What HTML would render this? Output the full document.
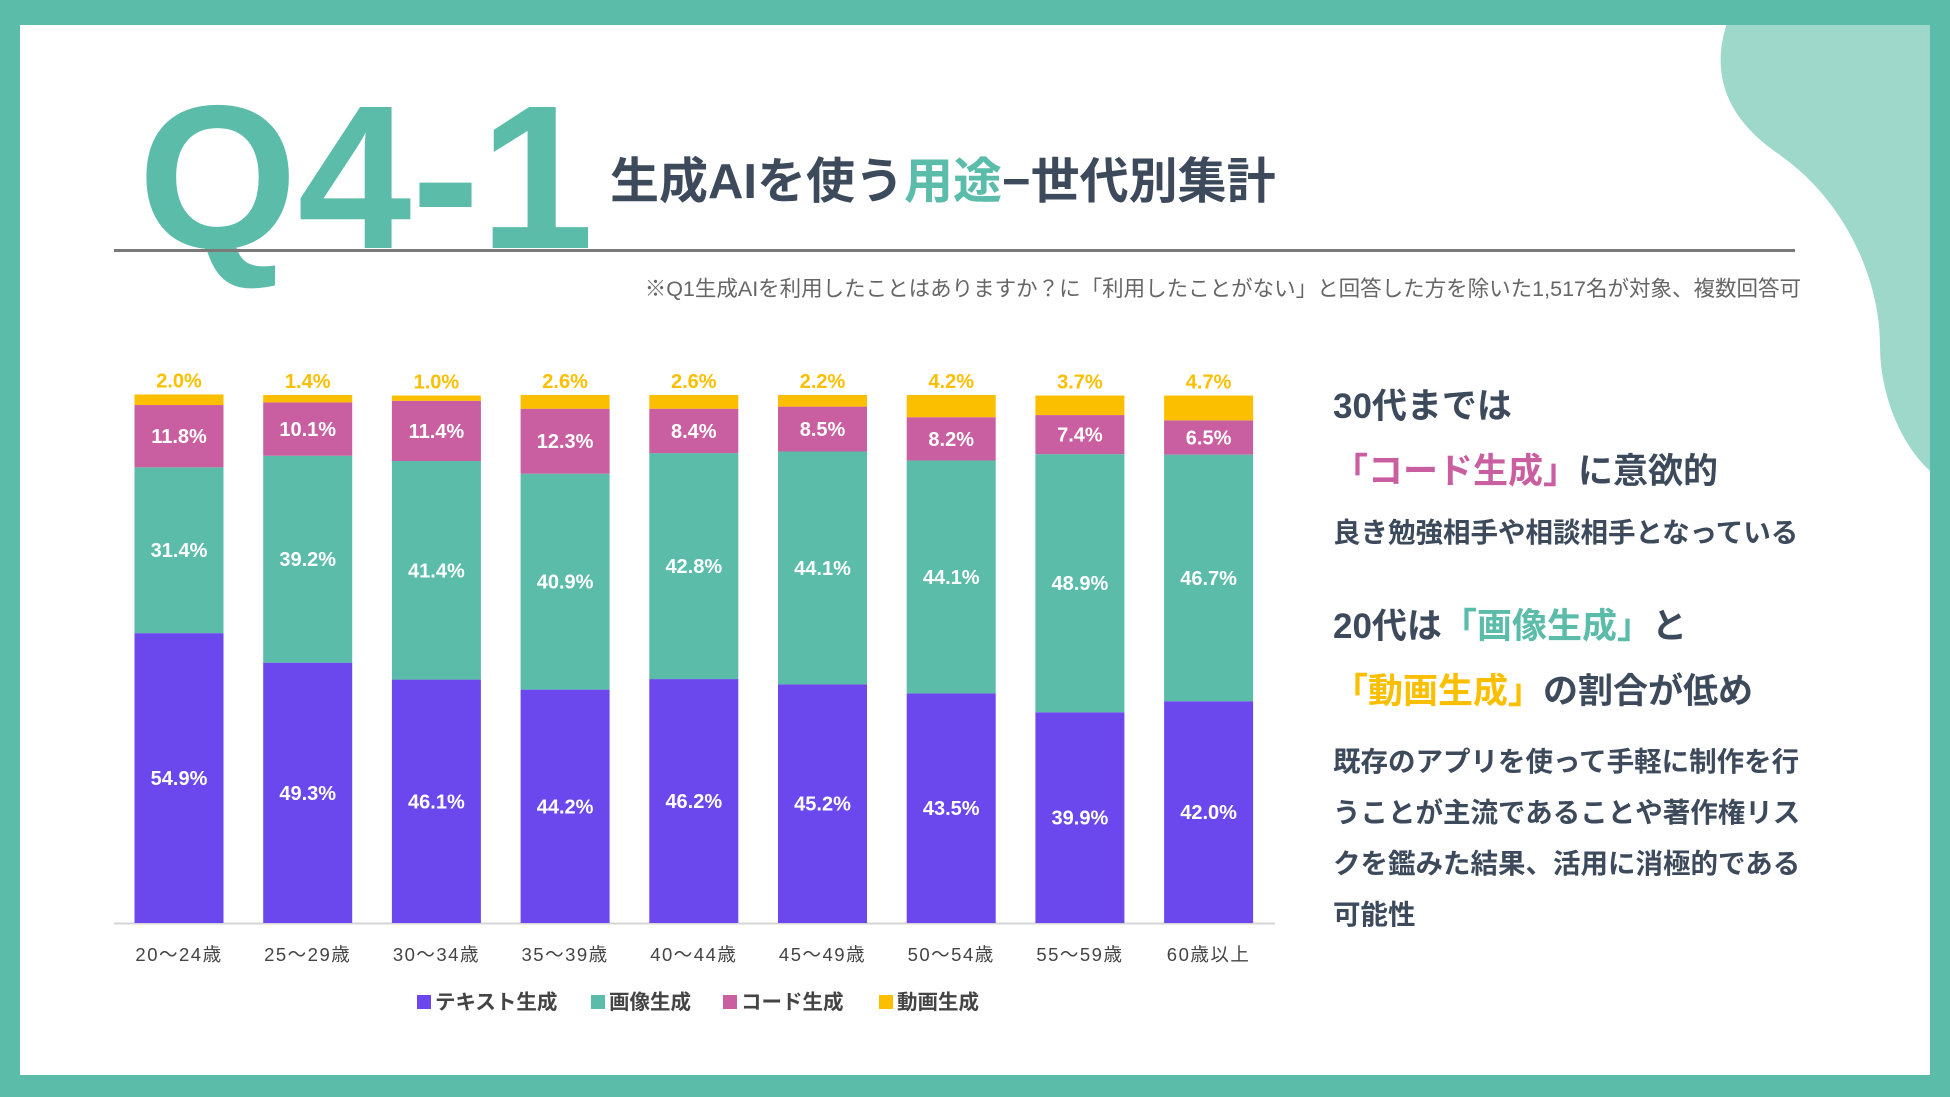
<!DOCTYPE html>
<html><head><meta charset="utf-8">
<style>
body{margin:0;width:1950px;height:1097px;overflow:hidden;background:#5bbcaa;font-family:"Liberation Sans","Noto Sans CJK JP",sans-serif;}
#frame{position:absolute;left:20px;top:25px;width:1910px;height:1050px;background:#fff;overflow:hidden}
.abs{position:absolute;white-space:nowrap}
</style></head><body>
<div id="frame">
<svg class="abs" style="left:0;top:0" width="1910" height="1050">
<path d="M1710 -10 C1690 40 1700 90 1760 130 C1830 180 1860 260 1860 320 C1860 380 1890 440 1930 460 L1930 -10 Z" fill="#9ed8cb"/>
</svg>
<div class="abs" style="left:118px;top:50px;font-size:205px;font-weight:bold;color:#5bbcaa;letter-spacing:0px;line-height:1">Q4-1</div>
<div class="abs" style="left:590px;top:133px;font-size:49px;font-weight:bold;color:#3d4a5c;line-height:1">生成AIを使う<span style="color:#5bbcaa">用途</span>−世代別集計</div>
<div class="abs" style="left:94px;top:224px;width:1681px;height:3px;background:#7a7a7a"></div>
<div class="abs" style="right:129px;top:247px;font-size:21.5px;color:#666">※Q1生成AIを利用したことはありますか？に「利用したことがない」と回答した方を除いた1,517名が対象、複数回答可</div>
<svg id="chart" class="abs" style="left:0;top:0" width="1320" height="1050"></svg>
<div class="abs" style="left:1313px;top:364px;color:#3d4a5c;font-weight:bold">
<div style="font-size:35px;line-height:1">30代までは</div>
<div style="font-size:35px;line-height:1;margin-top:30px"><span style="color:#c95fa0">「コード生成」</span>に意欲的</div>
<div style="font-size:27.5px;line-height:1;margin-top:30px">良き勉強相手や相談相手となっている</div>
<div style="font-size:35px;line-height:1;margin-top:62px">20代は<span style="color:#5bbcaa">「画像生成」</span>と</div>
<div style="font-size:35px;line-height:1;margin-top:30px"><span style="color:#fbbf00">「動画生成」</span>の割合が低め</div>
<div style="font-size:27.5px;line-height:51px;margin-top:27px">既存のアプリを使って手軽に制作を行<br>うことが主流であることや著作権リス<br>クを鑑みた結果、活用に消極的である<br>可能性</div>
</div>
</div>
<script>
const categories=["20〜24歳","25〜29歳","30〜34歳","35〜39歳","40〜44歳","45〜49歳","50〜54歳","55〜59歳","60歳以上"];
const textGen=[54.9,49.3,46.1,44.2,46.2,45.2,43.5,39.9,42.0];
const imageGen=[31.4,39.2,41.4,40.9,42.8,44.1,44.1,48.9,46.7];
const codeGen=[11.8,10.1,11.4,12.3,8.4,8.5,8.2,7.4,6.5];
const videoGen=[2.0,1.4,1.0,2.6,2.6,2.2,4.2,3.7,4.7];
const seriesNames=["テキスト生成","画像生成","コード生成","動画生成"];
const NS="http://www.w3.org/2000/svg";
const svg=document.getElementById('chart');
const base=898, scale=5.28, x0=159, pitch=128.7, bw=89;
const xPos=i=>x0+i*pitch;
const yLen=v=>v*scale;
const colors=["#6a48ee","#5bbcaa","#c95fa0","#fbbf00"];
const series=[textGen,imageGen,codeGen,videoGen];
function mk(t,a){const e=document.createElementNS(NS,t);for(const k in a)e.setAttribute(k,a[k]);svg.appendChild(e);return e;}
const ax=mk('line',{x1:94,x2:1255,y1:base+0.5,y2:base+0.5,stroke:'#d5d5d5','stroke-width':2});


categories.forEach((c,i)=>{
  let y=base;
  series.forEach((s,k)=>{
    const h=yLen(s[i]);
    y-=h;
    const r=mk('rect',{x:xPos(i)-bw/2,y:y,width:bw,height:h,fill:colors[k]});
    
    
    const t=mk('text',{x:xPos(i),'text-anchor':'middle','font-size':20,'font-weight':'bold',fill:k==3?'#fbbf00':'#fff'});
    t.setAttribute('y',k==3?y-7:y+h/2+7);
    t.textContent=s[i].toFixed(1)+'%';
    
    
  });
  const l=mk('text',{x:xPos(i),y:936,'text-anchor':'middle','font-size':18.5,fill:'#444','letter-spacing':'1.5'});
  l.textContent=c;
  
  
});
const legX=[397,571,703,859];
seriesNames.forEach((n,k)=>{
  const r=mk('rect',{x:legX[k],y:970,width:14,height:14,fill:colors[k]});
  
  
  const t=mk('text',{x:legX[k]+18,y:984,'font-size':20.5,'font-weight':'bold',fill:'#444'});
  t.textContent=n;
  
  
});
</script>
</body></html>
